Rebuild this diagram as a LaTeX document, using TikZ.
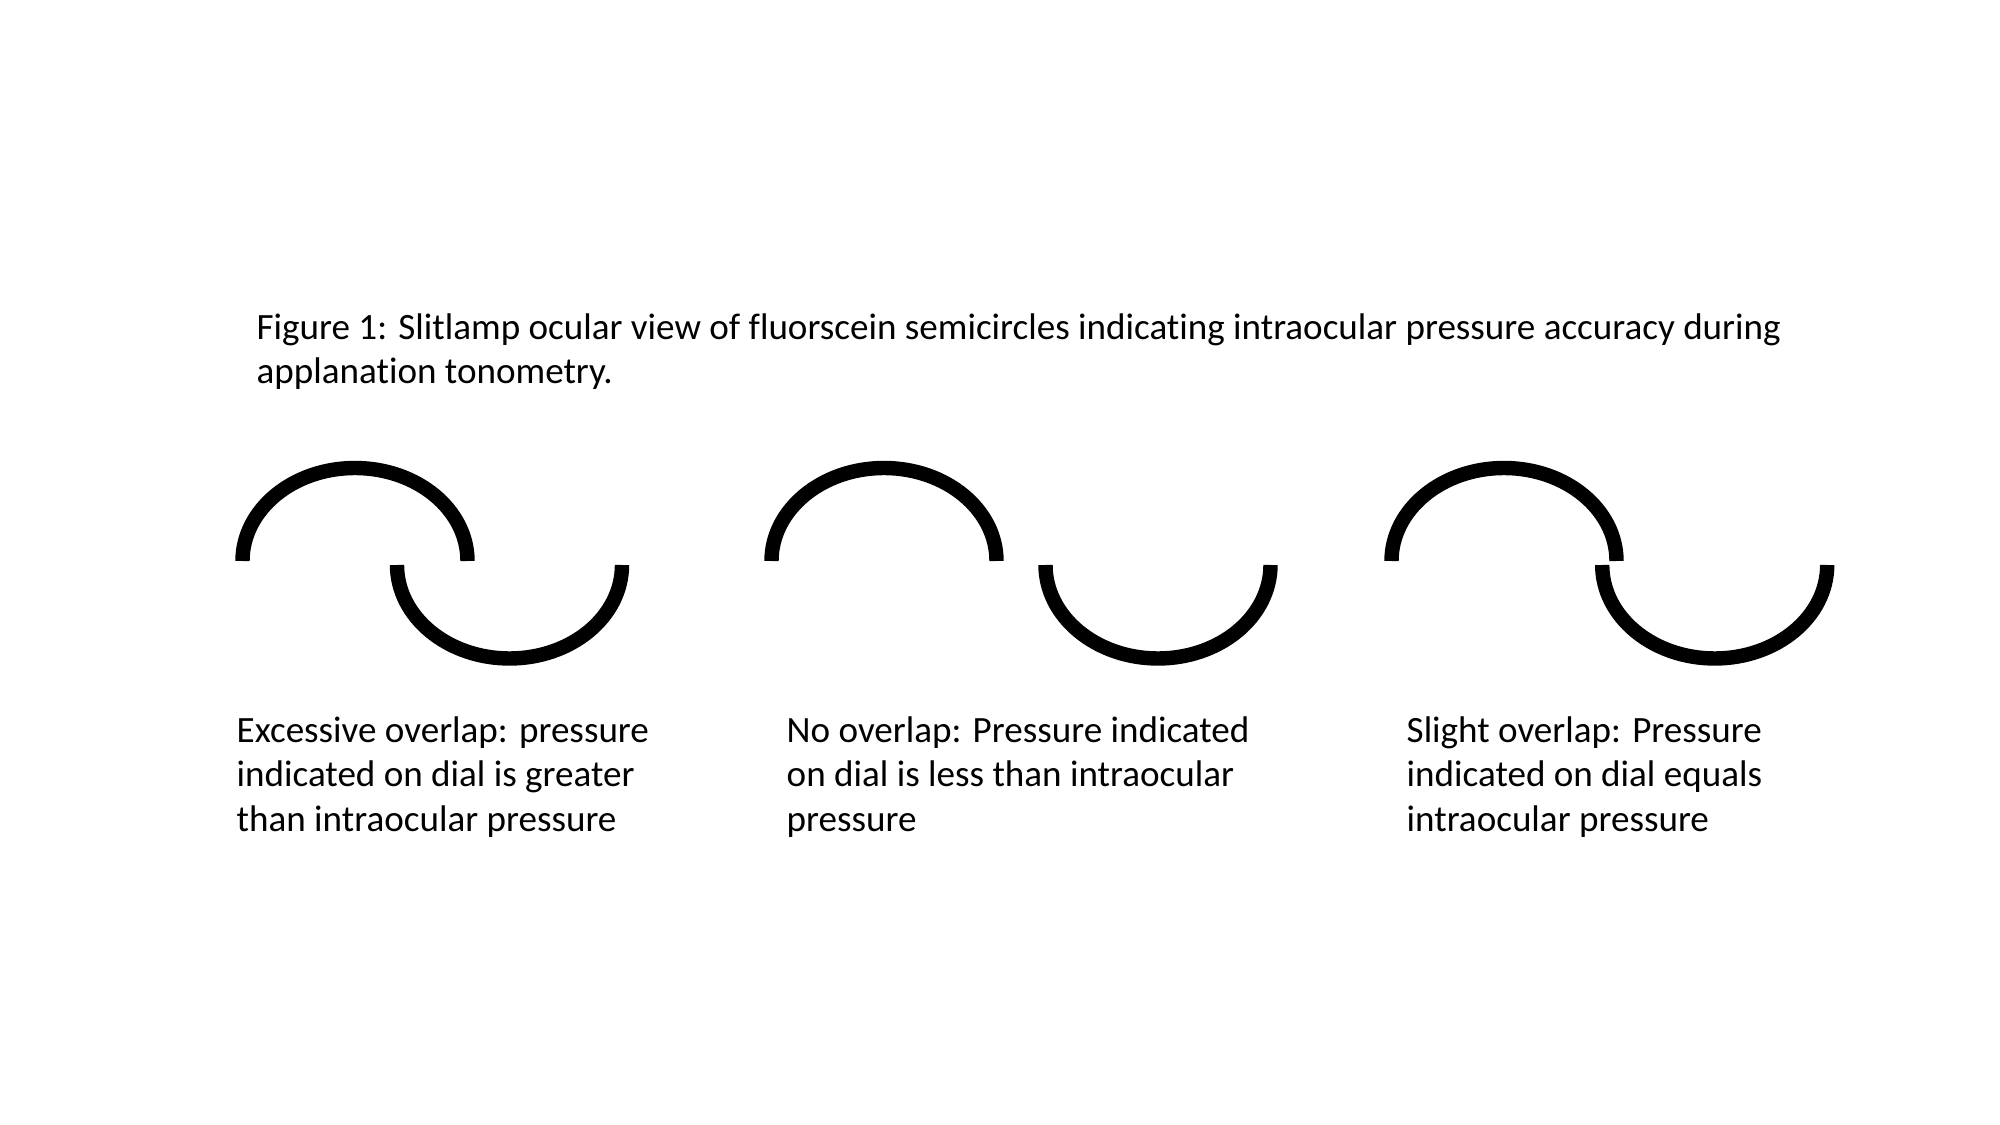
\documentclass[tikz,border=0pt]{standalone}
\usepackage{fontspec}
\setmainfont[Ligatures=NoCommon]{Carlito}

\begin{document}
\begin{tikzpicture}[
      x=0.01cm, y=-0.01cm,
      caption/.style={anchor=base west, inner sep=0pt, align=left, font=\fontsize{10.55}{12.6}\selectfont},
      halfring/.style={line width=4.1pt, line cap=butt}
    ]
    \useasboundingbox[fill=white] (0,0) rectangle (2000,1125);

    \node[caption] (title) at (256,383.5) {Figure 1: Slitlamp ocular view of fluorscein semicircles indicating intraocular pressure accuracy during\\applanation tonometry.};

    % upper and lower semicircle of each view
    \foreach \ux/\lx in {355/509.5, 884/1158, 1504/1714.7} {
      \draw[halfring] (\ux-112.5,561) arc[start angle=180, end angle=360, x radius=112.5, y radius=93];
      \draw[halfring] (\lx-112.5,565) arc[start angle=180, end angle=0, x radius=112.5, y radius=93.5];
    }

    \node[caption] (excess) at (236,831) {Excessive overlap: pressure\\indicated on dial is greater\\than intraocular pressure};
    \node[caption] (none) at (786,831) {No overlap: Pressure indicated\\on dial is less than intraocular\\pressure};
    \node[caption] (slight) at (1406,831) {Slight overlap: Pressure\\indicated on dial equals\\intraocular pressure};
  \end{tikzpicture}
\end{document}
